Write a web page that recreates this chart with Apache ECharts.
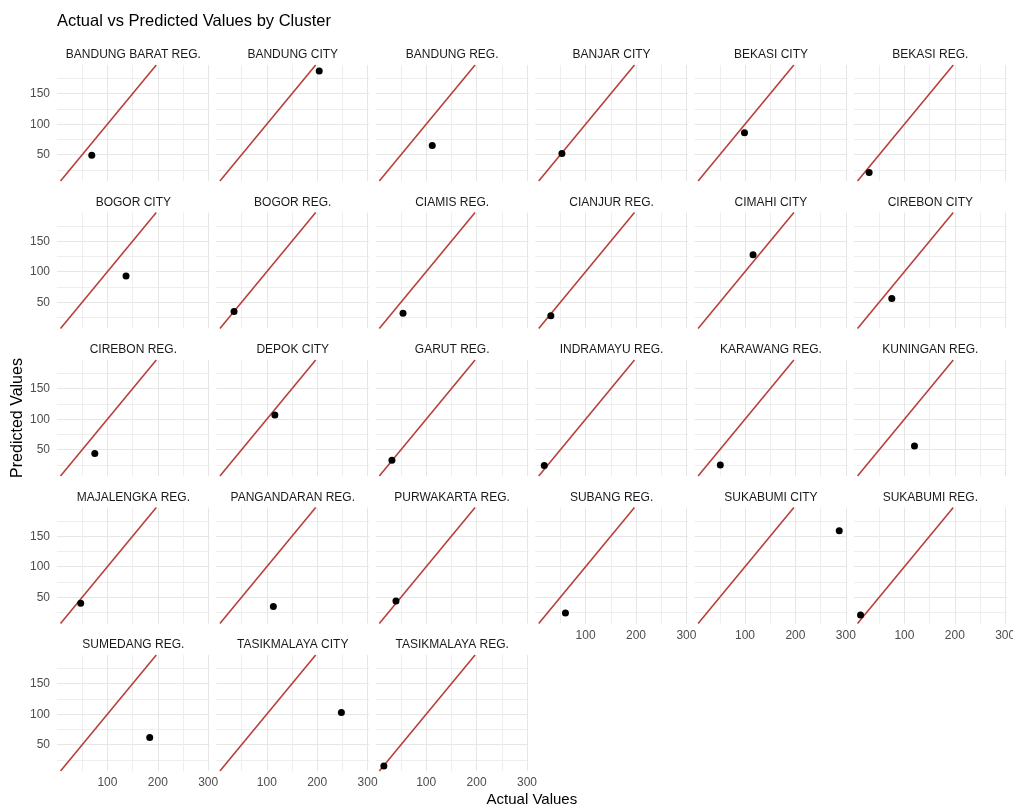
<!DOCTYPE html>
<html>
<head>
<meta charset="utf-8">
<script src="https://cdn.jsdelivr.net/npm/echarts@6/dist/echarts.min.js"></script>
<style>
  html, body { margin: 0; padding: 0; background: #ffffff; }
  #chart { width: 1013px; height: 807px; }
</style>
</head>
<body>
<div id="chart"></div>
<script>
// facet names, in panel order (6 per row)
var clusters = [
  "BANDUNG BARAT REG.", "BANDUNG CITY", "BANDUNG REG.", "BANJAR CITY", "BEKASI CITY", "BEKASI REG.",
  "BOGOR CITY", "BOGOR REG.", "CIAMIS REG.", "CIANJUR REG.", "CIMAHI CITY", "CIREBON CITY",
  "CIREBON REG.", "DEPOK CITY", "GARUT REG.", "INDRAMAYU REG.", "KARAWANG REG.", "KUNINGAN REG.",
  "MAJALENGKA REG.", "PANGANDARAN REG.", "PURWAKARTA REG.", "SUBANG REG.", "SUKABUMI CITY", "SUKABUMI REG.",
  "SUMEDANG REG.", "TASIKMALAYA CITY", "TASIKMALAYA REG."
];
var actualValues = [
  69, 204, 112, 53, 99, 30,
  137, 35, 54, 31, 116, 75,
  75, 116, 32, 18, 51, 120,
  47, 113, 40, 60, 287, 13,
  184, 248, 16
];
var predictedValues = [
  49, 187, 65, 52, 86, 21,
  93, 35, 32, 28, 128, 56,
  44, 107, 33, 24, 25, 56,
  40, 35, 44, 24, 159, 21,
  62, 103, 15
];
var xGridValues = [50, 100, 150, 200, 250, 300];
var xTickLabels = [100, 200, 300];
var yGridValues = [25, 50, 75, 100, 125, 150, 175];
var yTickLabels = [50, 100, 150];
var xLimits = [0, 303];
var yLimits = [7, 197];

var FONT = "Liberation Sans, Arial, sans-serif";
var NCOL = 6;
var PANEL_LEFT = 57;
var PANEL_TOP = 65;
var COL_STEP = 159.4;
var ROW_STEP = 147.5;
var PANEL_W = 152.7;
var PANEL_H = 116;
var GRID_MINOR = "#eeeeee";
var GRID_MAJOR = "#e6e6e6";
var LINE_RED = "#b8403a";

// identity line y = x over the shared range
var identityLine = [[yLimits[0], yLimits[0]], [yLimits[1], yLimits[1]]];

var chart = echarts.init(document.getElementById("chart"), null, { renderer: "canvas" });

var grids = [], xAxes = [], yAxes = [], series = [], graphics = [];
var n = clusters.length;
var nRows = Math.ceil(n / NCOL);

clusters.forEach(function (name, i) {
  var r = Math.floor(i / NCOL);
  var c = i % NCOL;
  var left = PANEL_LEFT + COL_STEP * c;
  var top = PANEL_TOP + ROW_STEP * r;
  // x labels only under the last panel of each column
  var lastInCol = (i + NCOL >= n);

  grids.push({
    left: left, top: top, width: PANEL_W, height: PANEL_H,
    containLabel: false, outerBoundsMode: "none"
  });

  xAxes.push({
    gridIndex: i, type: "value", min: xLimits[0], max: xLimits[1],
    axisLine: { show: false },
    axisTick: { show: false, customValues: xGridValues },
    axisLabel: {
      show: lastInCol, customValues: xTickLabels, margin: 6,
      color: "#4d4d4d", fontSize: 12, fontFamily: FONT
    },
    splitLine: { show: true, lineStyle: { color: [GRID_MINOR, GRID_MAJOR], width: 1 } }
  });

  yAxes.push({
    gridIndex: i, type: "value", min: yLimits[0], max: yLimits[1],
    axisLine: { show: false },
    axisTick: { show: false, customValues: yGridValues },
    axisLabel: {
      show: c === 0, customValues: yTickLabels, margin: 7,
      color: "#4d4d4d", fontSize: 12, fontFamily: FONT
    },
    splitLine: { show: true, lineStyle: { color: [GRID_MINOR, GRID_MAJOR], width: 1 } }
  });

  series.push({
    type: "line", xAxisIndex: i, yAxisIndex: i,
    data: identityLine, symbol: "none", silent: true, clip: true,
    lineStyle: { color: LINE_RED, width: 1.6 }, z: 2
  });
  series.push({
    type: "scatter", xAxisIndex: i, yAxisIndex: i,
    data: [[actualValues[i], predictedValues[i]]],
    symbolSize: 7, itemStyle: { color: "#000000", opacity: 1 }, z: 3
  });

  graphics.push({
    type: "text", x: left + PANEL_W / 2, y: top - 10,
    style: {
      text: name, textAlign: "center", textVerticalAlign: "middle",
      fontSize: 12, fill: "#1a1a1a", fontFamily: FONT
    }
  });
});

var plotLeft = PANEL_LEFT;
var plotRight = PANEL_LEFT + COL_STEP * (NCOL - 1) + PANEL_W;
var plotBottom = PANEL_TOP + ROW_STEP * (nRows - 1) + PANEL_H;

graphics.push({
  type: "text", x: (plotLeft + plotRight) / 2, y: 800,
  style: {
    text: "Actual Values", textAlign: "center", textVerticalAlign: "middle",
    fontSize: 15, fill: "#000000", fontFamily: FONT
  }
});
graphics.push({
  type: "text", x: 18, y: (PANEL_TOP + plotBottom) / 2, rotation: Math.PI / 2,
  style: {
    text: "Predicted Values", textAlign: "center", textVerticalAlign: "middle",
    fontSize: 16, fill: "#000000", fontFamily: FONT
  }
});

chart.setOption({
  backgroundColor: "#ffffff",
  animation: false,
  title: {
    text: "Actual vs Predicted Values by Cluster",
    left: 57, top: 13, padding: 0,
    textStyle: { fontSize: 16.5, fontWeight: "normal", color: "#000000", fontFamily: FONT }
  },
  grid: grids,
  xAxis: xAxes,
  yAxis: yAxes,
  series: series,
  graphic: graphics
});
</script>
</body>
</html>
